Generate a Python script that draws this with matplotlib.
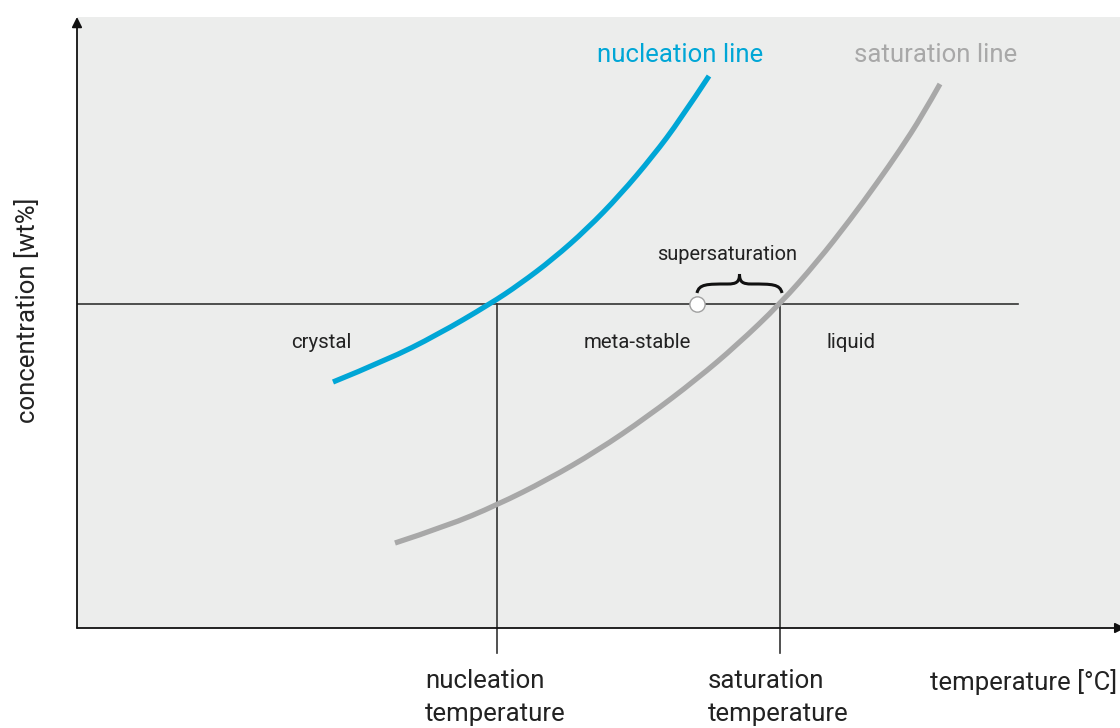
import matplotlib
matplotlib.use('agg')
from matplotlib import pyplot as plt
from matplotlib.path import Path
from matplotlib.patches import PathPatch

plt.rcParams['font.family'] = ['Roboto', 'DejaVu Sans']

# curves (arbitrary units)
nucl_temp = [2.56, 3.10, 3.60, 4.13, 4.43, 4.76, 5.10, 5.43, 5.76, 6.03, 6.32]
nucl_conc = [2.46, 2.68, 2.93, 3.24, 3.44, 3.69, 3.99, 4.33, 4.72, 5.08, 5.52]

sat_temp = [3.18, 3.70, 4.20, 4.70, 5.20, 5.70, 6.20, 6.60, 7.03, 7.40, 7.73, 8.00, 8.23, 8.45, 8.63]
sat_conc = [0.85, 1.02, 1.23, 1.48, 1.77, 2.11, 2.49, 2.83, 3.24, 3.66, 4.08, 4.45, 4.78, 5.12, 5.44]

conc_level = 3.24          # horizontal line
nucleation_temp = 4.20
saturation_temp = 7.03
start_temp = 6.20          # white point on the line
line_end = 9.41

region_labels = ['crystal', 'meta-stable', 'liquid']
region_x = [2.44, 5.60, 7.74]

blue = '#00a6d6'
grey = '#a8a8a8'
dark = '#333333'
txt = '#222222'


def smooth_path(xs, ys):
    # quadratic b-spline style path through the read points
    pts = list(zip(xs, ys))
    verts = [pts[0]]
    codes = [Path.MOVETO]
    for i in range(1, len(pts) - 1):
        mid = ((pts[i][0] + pts[i + 1][0]) / 2, (pts[i][1] + pts[i + 1][1]) / 2)
        if i == len(pts) - 2:
            mid = pts[-1]
        verts += [pts[i], mid]
        codes += [Path.CURVE3, Path.CURVE3]
    return Path(verts, codes)


fig = plt.figure(figsize=(11.2, 7.28), dpi=100)
ax = fig.add_axes([77/1120, 100/728, 1043/1120, 611/728])
ax.set_xlim(0, 10.43)
ax.set_ylim(0, 6.11)
ax.set_facecolor('#ecedec')
for s in ax.spines.values():
    s.set_visible(False)
ax.set_xticks([])
ax.set_yticks([])

# axis arrows
for tip in [(0, 1), (1.005, 0)]:
    ax.annotate('', xy=tip, xytext=(0, 0), xycoords='axes fraction',
                arrowprops=dict(arrowstyle='-|>', color='#111111', lw=1.3,
                                mutation_scale=15, shrinkA=0, shrinkB=0),
                annotation_clip=False)

# guide lines
ax.plot([0, line_end], [conc_level, conc_level], color=dark, lw=1.2, zorder=2)
for t in [nucleation_temp, saturation_temp]:
    ax.plot([t, t], [conc_level, -0.25], color=dark, lw=1.2, clip_on=False, zorder=2)

# curves
ax.add_patch(PathPatch(smooth_path(nucl_temp, nucl_conc), fc='none', ec=blue,
                       lw=3.8, capstyle='butt', zorder=3))
ax.add_patch(PathPatch(smooth_path(sat_temp, sat_conc), fc='none', ec=grey,
                       lw=3.8, capstyle='butt', zorder=3))

ax.plot([start_temp], [conc_level], 'o', ms=11, mfc='white', mec='#a0a0a0', mew=1, zorder=5)

# curly brace between the point and the saturation line
x0, x1 = start_temp, saturation_temp + 0.02
xm = (x0 + x1) / 2
yb, ym, yt = conc_level + 0.11, conc_level + 0.20, conc_level + 0.30
verts = [(x0, yb),
         (x0 + 0.02, ym), (x0 + 0.10, ym), (xm - 0.12, ym),
         (xm - 0.03, ym), (xm, ym + 0.02), (xm, yt),
         (xm, ym + 0.02), (xm + 0.03, ym), (xm + 0.12, ym),
         (x1 - 0.10, ym), (x1 - 0.02, ym), (x1, yb)]
codes = [Path.MOVETO] + [Path.CURVE4] * 12
ax.add_patch(PathPatch(Path(verts, codes), fc='none', ec='#111111', lw=2.2, zorder=4))

# labels
ax.text(6.03, 5.73, 'nucleation line', color=blue, fontsize=18.5, ha='center', va='center')
ax.text(8.59, 5.73, 'saturation line', color=grey, fontsize=18.5, ha='center', va='center')
ax.text(6.50, 3.73, 'supersaturation', color=txt, fontsize=14.4, ha='center', va='center')
for lab, x in zip(region_labels, region_x):
    ax.text(x, 2.86, lab, color=txt, fontsize=14.7, ha='center', va='center')

fig.text(425/1120, 1 - 669/728, 'nucleation\ntemperature', fontsize=18.5, color=txt,
         ha='left', va='top', linespacing=1.45)
fig.text(708/1120, 1 - 669/728, 'saturation\ntemperature', fontsize=18.5, color=txt,
         ha='left', va='top', linespacing=1.45)
fig.text(930/1120, 1 - 669/728, 'temperature [°C]', fontsize=18.5, color=txt,
         ha='left', va='top')
fig.text(28/1120, 1 - 310/728, 'concentration [wt%]', fontsize=18.5, color=txt,
         ha='center', va='center', rotation=90)

fig.savefig('out.png', dpi=100)
